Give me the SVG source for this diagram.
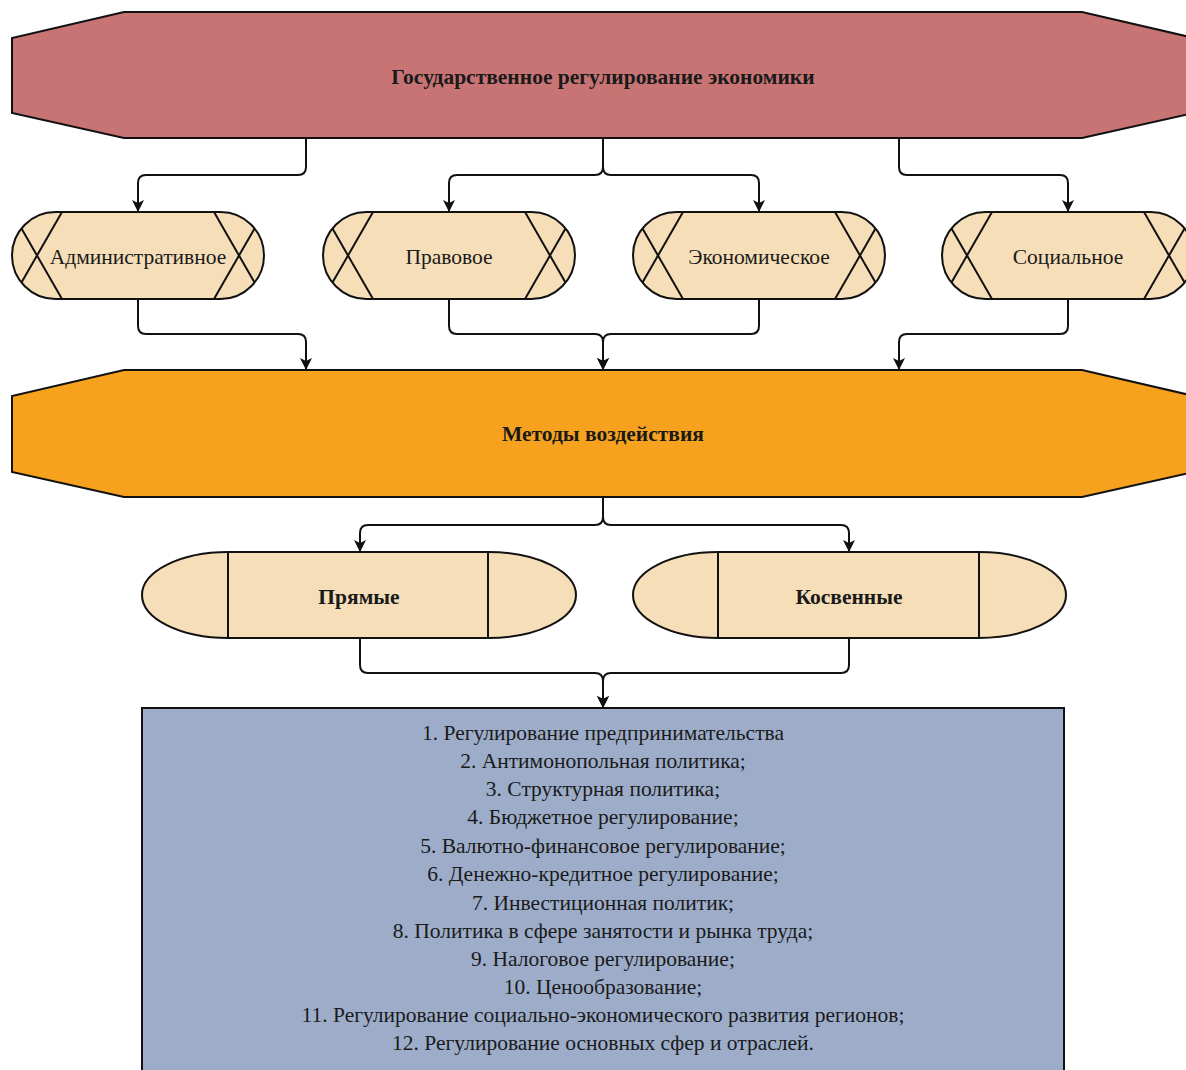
<svg xmlns="http://www.w3.org/2000/svg" width="1186" height="1070" viewBox="0 0 1186 1070">
<style>
.edge{fill:none;stroke:#111;stroke-width:2}
.hex{stroke:#111;stroke-width:2}
.pill{fill:#F5DEB8;stroke:#111;stroke-width:2}
.xl{stroke:#111;stroke-width:2;fill:none}
.t{font-family:"Liberation Serif","Times New Roman",serif;fill:#1a1a1a;text-anchor:middle;dominant-baseline:central}
.b{font-weight:bold;font-size:21.5px}
.r{font-size:21.5px}
</style>
<defs>
<marker id="arr" markerUnits="userSpaceOnUse" markerWidth="14" markerHeight="14" refX="12" refY="6" orient="auto">
<path d="M0,0 L12,6 L0,12 L3,6 z" fill="#111"/>
</marker>
<clipPath id="c1"><rect x="12" y="212" width="252" height="87" rx="43.5"/></clipPath>
<clipPath id="c2"><rect x="323" y="212" width="252" height="87" rx="43.5"/></clipPath>
<clipPath id="c3"><rect x="633" y="212" width="252" height="87" rx="43.5"/></clipPath>
<clipPath id="c4"><rect x="942" y="212" width="252" height="87" rx="43.5"/></clipPath>
</defs>
<rect width="1186" height="1070" fill="#fff"/>

<g id="connectors">
<path class="edge" d="M306,138 V167 Q306,175 298,175 H146 Q138,175 138,183 V212" marker-end="url(#arr)"/>
<path class="edge" d="M603,138 V167 Q603,175 595,175 H457 Q449,175 449,183 V212" marker-end="url(#arr)"/>
<path class="edge" d="M603,138 V167 Q603,175 611,175 H751 Q759,175 759,183 V212" marker-end="url(#arr)"/>
<path class="edge" d="M899,138 V167 Q899,175 907,175 H1060 Q1068,175 1068,183 V212" marker-end="url(#arr)"/>
<path class="edge" d="M138,299 V326 Q138,334 146,334 H298 Q306,334 306,342 V370" marker-end="url(#arr)"/>
<path class="edge" d="M449,299 V326 Q449,334 457,334 H595 Q603,334 603,342 V370" marker-end="url(#arr)"/>
<path class="edge" d="M759,299 V326 Q759,334 751,334 H611 Q603,334 603,342 V370" marker-end="url(#arr)"/>
<path class="edge" d="M1068,299 V326 Q1068,334 1060,334 H907 Q899,334 899,342 V370" marker-end="url(#arr)"/>
<path class="edge" d="M603,497 V517 Q603,525 595,525 H368 Q360,525 360,533 V552" marker-end="url(#arr)"/>
<path class="edge" d="M603,497 V517 Q603,525 611,525 H841 Q849,525 849,533 V552" marker-end="url(#arr)"/>
<path class="edge" d="M360,638 V665 Q360,673 368,673 H595 Q603,673 603,681 V708" marker-end="url(#arr)"/>
<path class="edge" d="M849,638 V665 Q849,673 841,673 H611 Q603,673 603,681 V708" marker-end="url(#arr)"/>
</g>

<g id="n-gov">
<polygon class="hex" fill="#C87474" points="124,12 1082,12 1194,38 1194,113 1082,138 124,138 12,113 12,38"/>
<text class="t b" x="603" y="77">Государственное регулирование экономики</text>
</g>

<g id="n-adm">
<rect class="pill" x="12" y="212" width="252" height="87" rx="43.5"/>
<g clip-path="url(#c1)"><path class="xl" d="M62,212 L12,299 M12,212 L62,299 M214,212 L264,299 M264,212 L214,299"/></g>
<text class="t r" x="138" y="257">Административное</text>
</g>

<g id="n-prav">
<rect class="pill" x="323" y="212" width="252" height="87" rx="43.5"/>
<g clip-path="url(#c2)"><path class="xl" d="M373,212 L323,299 M323,212 L373,299 M525,212 L575,299 M575,212 L525,299"/></g>
<text class="t r" x="449" y="257">Правовое</text>
</g>

<g id="n-econ">
<rect class="pill" x="633" y="212" width="252" height="87" rx="43.5"/>
<g clip-path="url(#c3)"><path class="xl" d="M683,212 L633,299 M633,212 L683,299 M835,212 L885,299 M885,212 L835,299"/></g>
<text class="t r" x="759" y="257">Экономическое</text>
</g>

<g id="n-soc">
<rect class="pill" x="942" y="212" width="252" height="87" rx="43.5"/>
<g clip-path="url(#c4)"><path class="xl" d="M992,212 L942,299 M942,212 L992,299 M1144,212 L1194,299 M1194,212 L1144,299"/></g>
<text class="t r" x="1068" y="257">Социальное</text>
</g>

<g id="n-methods">
<polygon class="hex" fill="#F7A21F" points="124,370 1082,370 1194,396 1194,472 1082,497 124,497 12,472 12,396"/>
<text class="t b" x="603" y="434">Методы воздействия</text>
</g>

<g id="n-direct">
<path class="pill" d="M228,552 H488 A88,43 0 0 1 488,638 H228 A86,43 0 0 1 228,552 Z"/>
<path class="xl" d="M228,552 V638 M488,552 V638"/>
<text class="t b" x="359" y="597">Прямые</text>
</g>

<g id="n-indirect">
<path class="pill" d="M718,552 H979 A87,43 0 0 1 979,638 H718 A85,43 0 0 1 718,552 Z"/>
<path class="xl" d="M718,552 V638 M979,552 V638"/>
<text class="t b" x="849" y="597">Косвенные</text>
</g>

<g id="n-list">
<rect x="142" y="708" width="922" height="380" fill="#9DADC9" stroke="#111" stroke-width="2"/>
<g class="t r">
<text x="603" y="733">1. Регулирование предпринимательства</text>
<text x="603" y="761">2. Антимонопольная политика;</text>
<text x="603" y="789">3. Структурная политика;</text>
<text x="603" y="817">4. Бюджетное регулирование;</text>
<text x="603" y="846">5. Валютно-финансовое регулирование;</text>
<text x="603" y="874">6. Денежно-кредитное регулирование;</text>
<text x="603" y="903">7. Инвестиционная политик;</text>
<text x="603" y="931">8. Политика в сфере занятости и рынка труда;</text>
<text x="603" y="959">9. Налоговое регулирование;</text>
<text x="603" y="987">10. Ценообразование;</text>
<text x="603" y="1015">11. Регулирование социально-экономического развития регионов;</text>
<text x="603" y="1043">12. Регулирование основных сфер и отраслей.</text>
</g>
</g>
</svg>
